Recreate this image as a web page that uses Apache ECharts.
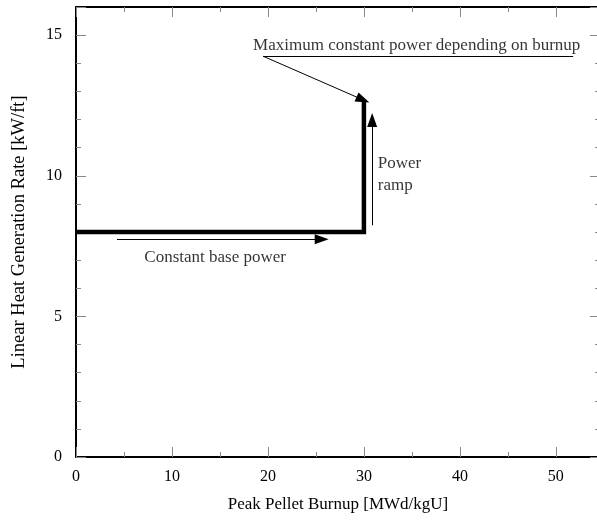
<!DOCTYPE html>
<html>
<head>
<meta charset="utf-8">
<script src="https://cdn.jsdelivr.net/npm/echarts@6/dist/echarts.min.js"></script>
<style>html,body{margin:0;padding:0;background:#fff;overflow:hidden}#c{width:606px;height:522px}</style>
</head>
<body>
<div id="c"></div>
<script>
// Power history: burnup [MWd/kgU] vs linear heat generation rate [kW/ft]
var burnup = [0, 30, 30];
var lhgr = [8, 8, 12.7];
var xTicks = [0, 10, 20, 30, 40, 50];
var yTicks = [0, 5, 10, 15];
// annotation arrows [from, to] in data units
var arrowMax = [[19.5, 14.25], [29.9, 12.7]];
var underlineMax = [[19.5, 14.25], [51.8, 14.25]];
var arrowRamp = [[30.86, 8.24], [30.86, 11.98]];
var arrowBase = [[4.27, 7.74], [25.6, 7.74]];
// annotation texts and anchors
var textMax = {text: 'Maximum constant power depending on burnup', at: [35.5, 14.63]};
var textRamp = {text: 'Power\nramp', at: [31.45, 10.06]};
var textBase = {text: 'Constant base power', at: [14.5, 7.1]};

var FONT = 'Liberation Serif';
var tickColor = '#888';

function axisCommon(showLabel) {
  return {
    axisLine: {show: true, onZero: false, lineStyle: {color: '#000', width: 2}},
    axisTick: {show: true, inside: true, length: 10, lineStyle: {color: tickColor, width: 1}},
    minorTick: {show: true, length: 5, lineStyle: {color: tickColor, width: 1}},
    splitLine: {show: false},
    axisLabel: {show: showLabel, color: '#000', fontFamily: FONT, fontSize: 16, showMaxLabel: false}
  };
}

var xb = Object.assign(axisCommon(true), {
  type: 'value', position: 'bottom', min: 0, max: 54.6, interval: 10,
  name: 'Peak Pellet Burnup [MWd/kgU]', nameLocation: 'middle', nameGap: 39,
  nameTextStyle: {color: '#000', fontFamily: FONT, fontSize: 17}
});
xb.minorTick.splitNumber = 2;
xb.axisLabel.margin = 12;
var xt = Object.assign(axisCommon(false), {type: 'value', position: 'top', min: 0, max: 54.6, interval: 10});
xt.minorTick.splitNumber = 2;

var yl = Object.assign(axisCommon(true), {
  type: 'value', position: 'left', min: 0, max: 16, interval: 5,
  name: 'Linear Heat Generation Rate [kW/ft]', nameLocation: 'middle', nameGap: 47,
  nameTextStyle: {color: '#000', fontFamily: FONT, fontSize: 18.5}
});
yl.minorTick.splitNumber = 5;
yl.axisLabel.margin = 14;
var yr = Object.assign(axisCommon(false), {type: 'value', position: 'right', min: 0, max: 16, interval: 5});
yr.minorTick.splitNumber = 5;

function arrowLine(pts) {
  return [{coord: pts[0], symbol: 'none'}, {coord: pts[1], symbol: 'triangle', symbolSize: [10, 14]}];
}
function plainLine(pts) {
  return [{coord: pts[0], symbol: 'none'}, {coord: pts[1], symbol: 'none'}];
}
function textPoint(t, align) {
  return {value: t.at, label: {show: true, formatter: t.text, position: 'inside', align: align,
    color: '#000', fontFamily: FONT, fontSize: 17, lineHeight: 22}};
}

var option = {
  animation: false,
  backgroundColor: '#fff',
  grid: {left: 76, top: 7, width: 524, height: 450, containLabel: false},
  xAxis: [xb, xt],
  yAxis: [yl, yr],
  series: [
    {
      type: 'line', xAxisIndex: 0, yAxisIndex: 0,
      data: burnup.map(function (b, i) { return [b, lhgr[i]]; }),
      showSymbol: false, symbol: 'none',
      lineStyle: {color: '#000', width: 4.5, join: 'miter'},
      markLine: {
        silent: true, animation: false, precision: 4,
        lineStyle: {color: '#000', width: 1, type: 'solid'},
        label: {show: false},
        symbolSize: [10, 14],
        data: [arrowLine(arrowMax), plainLine(underlineMax), arrowLine(arrowRamp), arrowLine(arrowBase)]
      }
    },
    {
      type: 'scatter', xAxisIndex: 0, yAxisIndex: 0, symbolSize: 0, silent: true,
      data: [textPoint(textMax, 'center'), textPoint(textRamp, 'left'), textPoint(textBase, 'center')]
    }
  ]
};

var chart = echarts.init(document.getElementById('c'), null, {renderer: 'canvas'});
chart.setOption(option);
</script>
</body>
</html>
